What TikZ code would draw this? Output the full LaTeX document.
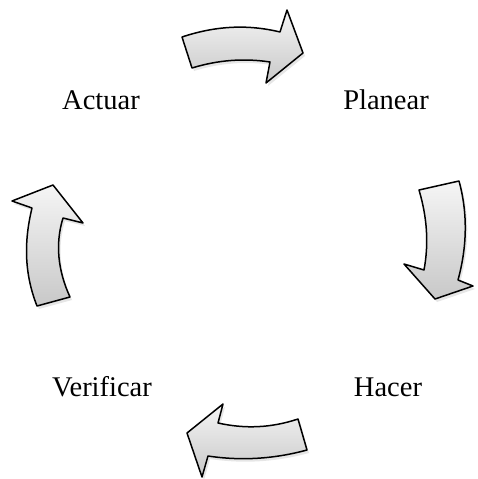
\documentclass[tikz,border=0pt]{standalone}
\usepackage{fontspec}
\setmainfont{Liberation Serif}
\usepackage{tikz}
\usetikzlibrary{shadows}
\definecolor{arrowlight}{RGB}{245, 245, 245}
\definecolor{arrowdark}{RGB}{200, 200, 200}

\begin{document}
\begin{tikzpicture}[x=1pt, y=-1pt,
    cyclearrow/.style={draw=black, line width=1.5pt, line join=round,
      top color=arrowlight, bottom color=arrowdark,
      drop shadow={shadow xshift=2pt, shadow yshift=-3pt, opacity=0.2}},
    stagelabel/.style={anchor=base, inner sep=0pt, font=\fontsize{28.5}{33}\selectfont}]
        \useasboundingbox (0,0) rectangle (477,479);
        % stage labels
        \node[stagelabel] (actuar) at (101,109) {Actuar};
        \node[stagelabel] (planear) at (386,109) {Planear};
        \node[stagelabel] (hacer) at (388,396) {Hacer};
        \node[stagelabel] (verificar) at (102,396) {Verificar};
        % top arrow, pointing right
        \path[cyclearrow] (182,37) .. controls (215,26) and (247,24) .. (280,32)
          -- (287,10) -- (303,53) -- (266,83) -- (270,62)
          .. controls (244,58) and (218,60) .. (192,68) -- cycle;
        % right arrow, pointing down
        \path[cyclearrow] (459,181) .. controls (468,214) and (467,247) .. (458,280)
          -- (473,286) -- (435,299) -- (404,264) -- (424,270)
          .. controls (429,243) and (427,217) .. (419,190) -- cycle;
        % bottom arrow, pointing left
        \path[cyclearrow] (307,450) .. controls (274,459) and (241,461) .. (208,456)
          -- (202,477) -- (187,433) -- (223,404) -- (218,423)
          .. controls (245,429) and (271,428) .. (298,419) -- cycle;
        % left arrow, pointing up
        \path[cyclearrow] (37,306) .. controls (24,273) and (24,241) .. (32,208)
          -- (12,201) -- (53,185) -- (83,223) -- (63,218)
          .. controls (55,244) and (58,271) .. (70,297) -- cycle;
      \end{tikzpicture}
\end{document}
